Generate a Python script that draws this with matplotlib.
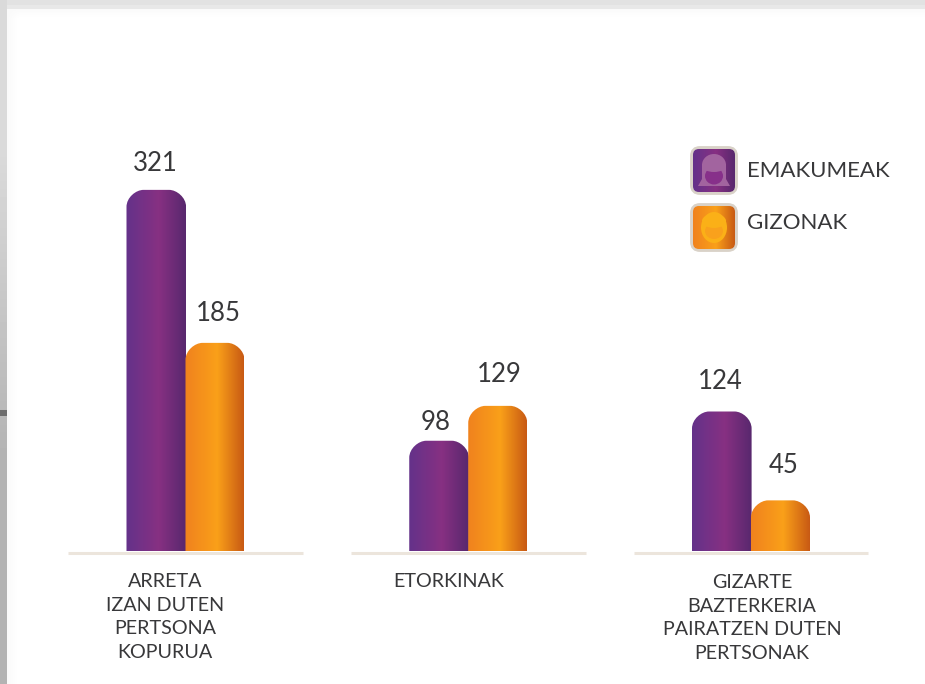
import numpy as np
import matplotlib
matplotlib.use('Agg')
import matplotlib.pyplot as plt
from matplotlib.patches import FancyBboxPatch, PathPatch, Ellipse
from matplotlib.path import Path
from matplotlib.colors import LinearSegmentedColormap

groups = ['ARRETA\nIZAN DUTEN\nPERTSONA\nKOPURUA', 'ETORKINAK', 'GIZARTE\nBAZTERKERIA\nPAIRATZEN DUTEN\nPERTSONAK']
emakumeak = [321, 98, 124]
gizonak = [185, 129, 45]
series_names = ['EMAKUMEAK', 'GIZONAK']

W, H = 925, 684
PX_X = 282.75   # pixels per group
PX_Y = 1.125    # pixels per person
FONT = 'Lato'
TXT = '#38383a'

purple = LinearSegmentedColormap.from_list('p', [(0, '#64328a'), (.55, '#873082'), (1, '#58286e')])
orange = LinearSegmentedColormap.from_list('o', [(0, '#f0821e'), (.55, '#faa019'), (1, '#c85a14')])
grad = np.linspace(0, 1, 128).reshape(1, -1)

fig = plt.figure(figsize=(W / 100, H / 100), dpi=100)
fig.patch.set_alpha(0)

# grey backing with the white sheet and its soft edge on top
yy, xx = np.mgrid[0:H, 0:W]
grey = 218 - 38 * np.clip((yy - 150) / 300, 0, 1)
grey = np.where(xx < 7, grey, 226.0)
sheet = np.clip((xx - 7) / 12, 0, 1) * np.clip((yy - 8) / 10, 0, 1)
sheet = np.where((xx >= 7) & (yy >= 5), 0.80 + 0.20 * sheet, 0)
bg = grey + (255 - grey) * sheet
bg = np.where((xx >= 7) & (yy >= 5) & (yy < 9), 232, bg)
bg[410:416, :7] = 110
fig.figimage(bg, cmap='gray', vmin=0, vmax=255, origin='upper', zorder=-1)

ax = fig.add_axes([0, 0, 1, 1])
ax.patch.set_alpha(0)
ax.axis('off')
x0, y0 = 185.5, 551.0
xlim = (-x0 / PX_X, (W - x0) / PX_X)
ylim = ((y0 - H) / PX_Y, y0 / PX_Y)

bw = 59 / PX_X
rx, ry = 17 / PX_X, 17 / PX_Y
seam = 0.6 / PX_X


def rounded_bar(x, v, cmap, w):
    k = 0.45
    verts = [(x, 0), (x, v - ry), (x, v - ry * k), (x + rx * (1 - k), v), (x + rx, v),
             (x + w - rx, v), (x + w - rx * (1 - k), v), (x + w, v - ry * k), (x + w, v - ry),
             (x + w, 0), (x, 0)]
    codes = [Path.MOVETO, Path.LINETO, Path.CURVE4, Path.CURVE4, Path.CURVE4,
             Path.LINETO, Path.CURVE4, Path.CURVE4, Path.CURVE4, Path.LINETO, Path.CLOSEPOLY]
    clip = PathPatch(Path(verts, codes), fc='none', ec='none', transform=ax.transData)
    ax.add_patch(clip)
    im = ax.imshow(grad, extent=(x, x + w, 0, v), aspect='auto', cmap=cmap, zorder=3, origin='lower')
    im.set_clip_path(clip)


off_e = [(-1, 26), (-3, 18), (-1, 30)]
off_g = [(3.5, 29), (1.5, 31), (3, 35)]
for i in range(len(groups)):
    ax.plot([i - .4155, i + .4155], [-1.5, -1.5], color='#ece5dc', lw=2.2, solid_capstyle='butt', zorder=2)
    rounded_bar(i - bw, emakumeak[i], purple, bw + seam)
    rounded_bar(i, gizonak[i], orange, bw)
    ax.annotate(str(emakumeak[i]), (i - bw / 2, emakumeak[i]), xytext=(off_e[i][0] * .72, off_e[i][1] * .72),
                textcoords='offset points', ha='center', va='center', fontsize=18.5, family=FONT, color=TXT)
    ax.annotate(str(gizonak[i]), (i + bw / 2, gizonak[i]), xytext=(off_g[i][0] * .72, off_g[i][1] * .72),
                textcoords='offset points', ha='center', va='center', fontsize=18.5, family=FONT, color=TXT)

ax.set_xlim(xlim)
ax.set_ylim(ylim)

# legend and category text in pixel positions
ov = fig.add_axes([0, 0, 1, 1])
ov.patch.set_alpha(0)
ov.axis('off')
ov.set_xlim(0, W)
ov.set_ylim(H, 0)

label_pos = [(165, 573), (449, 573), (752, 574)]
for lab, (lx, ly) in zip(groups, label_pos):
    ov.text(lx, ly, lab, ha='center', va='top', fontsize=14.2, family=FONT, color=TXT, linespacing=1.47)


def icon(top, cmap, light, face, woman):
    ov.add_patch(FancyBboxPatch((693, top + 3), 42, 43, boxstyle='round,pad=0,rounding_size=7',
                                fc='#d9d2c8', ec='#d9d2c8', lw=4.2, zorder=2))
    box = FancyBboxPatch((693, top + 3), 42, 43, boxstyle='round,pad=0,rounding_size=6',
                         fc='none', ec='none', transform=ov.transData)
    ov.add_patch(box)
    im = ov.imshow(grad, extent=(693, 735, top + 46, top + 3), aspect='auto', cmap=cmap, zorder=3)
    im.set_clip_path(box)
    if woman:
        verts = [(698, top + 40), (702, top + 33), (702, top + 18), (726, top + 18), (726, top + 33), (730, top + 40)]
        ov.fill([v[0] for v in verts], [v[1] for v in verts], color=light, zorder=4, lw=0)
        ov.add_patch(Ellipse((714, top + 19), 24, 22, fc=light, ec='none', zorder=4))
        ov.add_patch(Ellipse((714, top + 30), 18, 17, fc=face, ec='none', zorder=5))
        ov.add_patch(Ellipse((714, top + 20), 24, 12, fc=light, ec='none', zorder=5))
    else:
        ov.add_patch(Ellipse((714, top + 24.5), 26, 31, fc=light, ec='none', zorder=4))
        ov.add_patch(Ellipse((714, top + 28), 18, 16, fc=face, ec='none', zorder=5))
        ov.add_patch(Ellipse((714, top + 18), 24, 14, fc=light, ec='none', zorder=5))


icon(146, purple, '#a2649f', '#87308a', True)
icon(203, orange, '#fbb017', '#f9a11c', False)
ov.text(747, 171, series_names[0], va='center', ha='left', fontsize=16, family=FONT, color=TXT)
ov.text(747, 223, series_names[1], va='center', ha='left', fontsize=16, family=FONT, color=TXT)
ov.set_xlim(0, W)
ov.set_ylim(H, 0)

fig.savefig('out.png', dpi=100)
